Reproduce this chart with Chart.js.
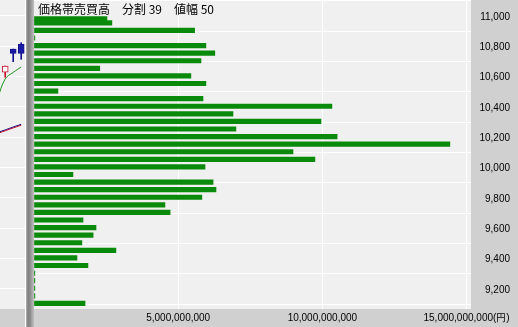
<!DOCTYPE html>
<html>
<head>
<meta charset="utf-8">
<script src="https://cdn.jsdelivr.net/npm/chart.js@4/dist/chart.umd.min.js"></script>
<style>
  html, body { margin: 0; padding: 0; }
  body { width: 518px; height: 327px; background: #d0d0d0; position: relative; overflow: hidden; }
  #side { position: absolute; left: 0; top: 0; }
  #sideEdge { position: absolute; left: 25px; top: 0; width: 1px; height: 327px; background: #ffffff; }
  #divider { position: absolute; left: 26px; top: 0; width: 8px; height: 327px;
             background: linear-gradient(to right, #b4b4b4 0, #7e7e7e 25%, #8a8a8a 50%, #a6a6a6 75%, #c0c0c0 100%); }
  #main { position: absolute; left: 34px; top: 0; }
  #title { position: absolute; left: 38px; top: 2px; font: 12px "Noto Sans CJK JP", sans-serif;
           color: #000; white-space: pre; line-height: 14px; }
</style>
</head>
<body>
<canvas id="side" width="25" height="309"></canvas>
<div id="sideEdge"></div>
<div id="divider"></div>
<canvas id="main" width="484" height="327"></canvas>
<div id="title">価格帯売買高　分割 39　値幅 50</div>
<script>
// 価格帯別売買高（39 分割・値幅 50）
const bandPrices = [10982, 10955, 10905, 10855, 10805, 10755, 10705, 10655, 10605, 10555,
                    10505, 10455, 10405, 10355, 10305, 10255, 10205, 10155, 10105, 10055,
                    10005, 9955, 9905, 9855, 9805, 9755, 9705, 9655, 9605, 9555,
                    9505, 9455, 9405, 9355, 9305, 9255, 9205, 9155, 9105];
// 売買代金（億円）
const bandTurnoverOku = [25.3, 27.0, 55.7, 0.3, 59.6, 62.7, 57.9, 22.8, 54.4, 59.6,
                         8.3, 58.6, 103.3, 69.0, 99.5, 70.0, 105.1, 144.2, 89.8, 97.4,
                         59.3, 13.5, 62.1, 63.1, 58.2, 45.4, 47.2, 17.0, 21.5, 20.5,
                         16.6, 28.4, 14.9, 18.7, 0.3, 0.3, 0.3, 0.3, 17.7];
const priceTicks = [9200, 9400, 9600, 9800, 10000, 10200, 10400, 10600, 10800, 11000];
const turnoverTicks = [0, 5000000000, 10000000000, 15000000000];
const priceMin = 9068, priceMax = 11105.5;
const turnoverMax = 15153000000;

// 左側のローソク足（末尾 3 本）と移動平均
const candleDays  = [0, 1, 2];
const candleOpen  = [10629, 10782, 10813];
const candleClose = [10670, 10754, 10754];
const candleHigh  = [10670, 10782, 10824];
const candleLow   = [10596, 10699, 10715];
const lineDays    = [-1, 0, 1, 2];
const maGreen     = [10450, 10585, 10628, 10664];
const maNavy      = [10231, 10249, 10268, 10286];
const maRed       = [10225, 10243, 10262, 10280];

const plotBg = {
  id: 'plotBg',
  beforeDraw(chart, args, opts) {
    const { ctx, chartArea: a } = chart;
    ctx.save();
    ctx.fillStyle = opts.color || '#f0f0f0';
    ctx.fillRect(a.left, a.top, a.right - a.left, a.bottom - a.top);
    ctx.restore();
  }
};

const tickFont = { family: 'Liberation Sans', size: 10 };
const fmt = v => v.toLocaleString('en-US');
const useTicks = list => s => { s.ticks = list.map(v => ({ value: v })); };
// the plot fills the canvas edge to edge; axis labels need no extra room at the ends
const fixedBox = (w, h) => s => {
  if (w !== null) s.width = w;
  if (h !== null) s.height = h;
  s.paddingTop = 0; s.paddingBottom = 0; s.paddingLeft = 0; s.paddingRight = 0;
};

new Chart(document.getElementById('main'), {
  type: 'bar',
  data: {
    datasets: [{
      data: bandPrices.map((p, i) => ({ x: bandTurnoverOku[i] * 1e8, y: p })),
      backgroundColor: '#0a8a0a',
      borderWidth: 0,
      barThickness: 4.5
    }]
  },
  options: {
    indexAxis: 'y',
    responsive: false,
    animation: false,
    devicePixelRatio: 1,
    layout: { padding: { left: 0, top: 0, bottom: 0, right: 8 }, autoPadding: false },
    plugins: { legend: { display: false }, tooltip: { enabled: false }, plotBg: { color: '#f0f0f0' } },
    scales: {
      x: {
        type: 'linear', min: 0, max: turnoverMax, offset: false,
        afterBuildTicks: useTicks(turnoverTicks),
        grid: { color: c => (c.tick && c.tick.value === 0) ? 'rgba(0,0,0,0)' : '#ffffff', drawTicks: false },
        border: { display: false },
        ticks: {
          padding: 3, maxRotation: 0, autoSkip: false,
          font: tickFont, color: '#000',
          callback: v => v === 0 ? '' : (v >= 15000000000 ? fmt(v) + '(円)' : fmt(v))
        },
        afterFit: fixedBox(null, 18)
      },
      y: {
        type: 'linear', position: 'right', min: priceMin, max: priceMax, offset: false,
        afterBuildTicks: useTicks(priceTicks),
        grid: { color: '#ffffff', drawTicks: false },
        border: { display: false },
        ticks: {
          padding: 0, crossAlign: 'far', labelOffset: 1, autoSkip: false,
          font: tickFont, color: '#000', callback: v => fmt(v)
        },
        afterFit: fixedBox(39, null)
      }
    }
  },
  plugins: [plotBg]
});

const isUp = i => candleClose[i] >= candleOpen[i];
new Chart(document.getElementById('side'), {
  type: 'bar',
  data: {
    datasets: [
      {
        type: 'line', order: 3,
        data: lineDays.map((d, i) => ({ x: d, y: maGreen[i] })),
        borderColor: '#1e961e', borderWidth: 1, pointRadius: 0, tension: 0.4
      },
      {
        type: 'line', order: 3,
        data: lineDays.map((d, i) => ({ x: d, y: maRed[i] })),
        borderColor: '#c01030', borderWidth: 1, pointRadius: 0
      },
      {
        type: 'line', order: 3,
        data: lineDays.map((d, i) => ({ x: d, y: maNavy[i] })),
        borderColor: '#101080', borderWidth: 1, pointRadius: 0
      },
      {
        order: 2, grouped: false, barThickness: 1, borderWidth: 0,
        data: candleDays.map((d, i) => ({ x: d, y: [candleLow[i], candleHigh[i]] })),
        backgroundColor: c => isUp(c.dataIndex) ? '#c8102e' : '#10108c'
      },
      {
        order: 1, grouped: false, barThickness: 6, borderWidth: 1, borderSkipped: false,
        data: candleDays.map((d, i) => ({ x: d, y: [candleOpen[i], candleClose[i]] })),
        backgroundColor: c => isUp(c.dataIndex) ? '#ffffff' : '#1c1ca8',
        borderColor: c => isUp(c.dataIndex) ? '#c8102e' : '#10108c'
      }
    ]
  },
  options: {
    responsive: false,
    animation: false,
    devicePixelRatio: 1,
    layout: { padding: 0, autoPadding: false },
    plugins: { legend: { display: false }, tooltip: { enabled: false }, plotBg: { color: '#f0f0f0' } },
    scales: {
      x: { type: 'linear', display: false, min: -0.65, max: 2.475, offset: false },
      y: {
        type: 'linear', min: priceMin, max: priceMax, offset: false,
        afterBuildTicks: useTicks(priceTicks),
        grid: { color: '#ffffff', drawTicks: false },
        border: { display: false },
        ticks: { display: false },
        afterFit: fixedBox(0, null)
      }
    }
  },
  plugins: [plotBg]
});
</script>
</body>
</html>
